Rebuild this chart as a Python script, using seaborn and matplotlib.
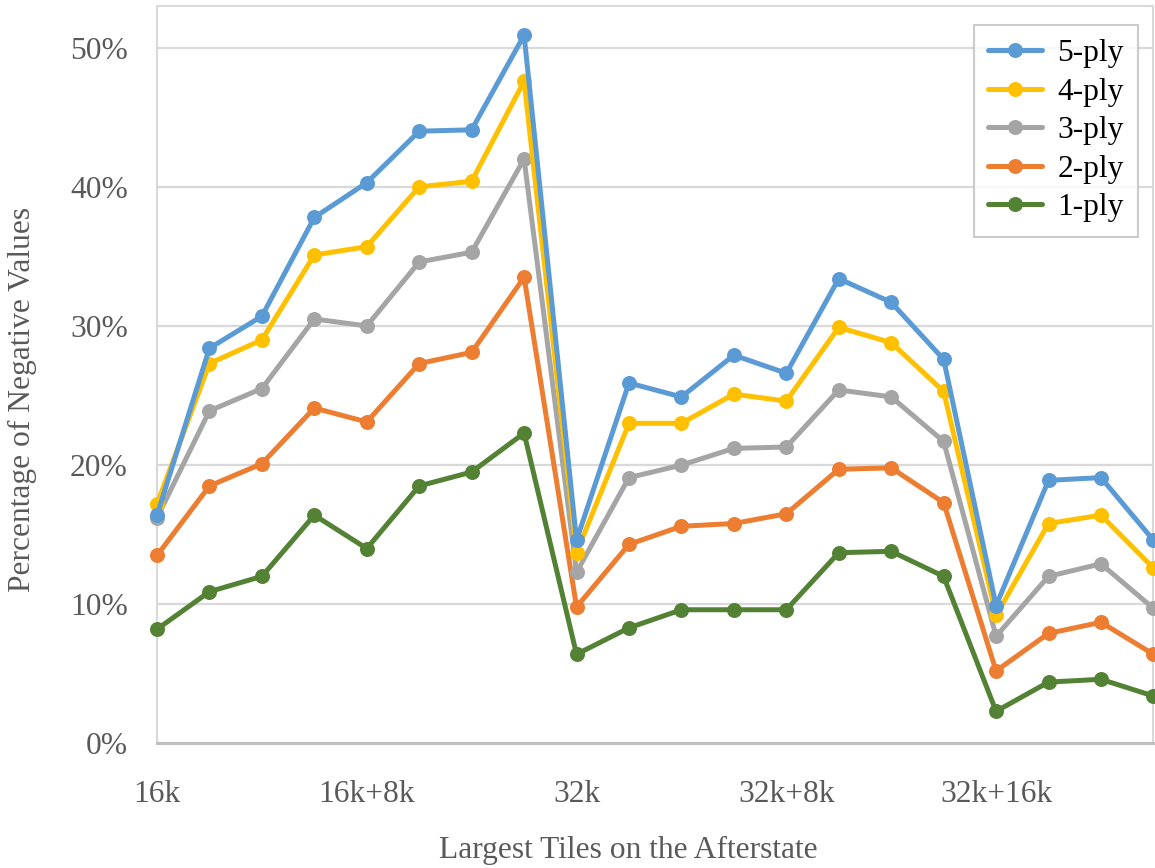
import matplotlib
matplotlib.use("Agg")
import matplotlib.pyplot as plt
from matplotlib.ticker import PercentFormatter, FixedLocator
from matplotlib.lines import Line2D
import seaborn as sns
import pandas as pd

# Largest tile on the afterstate, in 2k steps starting from 16k
steps = list(range(20))
tick_positions = [0, 4, 8, 12, 16]
tick_labels = ["16k", "16k+8k", "32k", "32k+8k", "32k+16k"]

# Percentage of negative values per search depth
ply1 = [8.2, 10.9, 12.0, 16.4, 14.0, 18.5, 19.5, 22.3, 6.4, 8.3,
        9.6, 9.6, 9.6, 13.7, 13.8, 12.0, 2.3, 4.4, 4.6, 3.4]
ply2 = [13.5, 18.5, 20.1, 24.1, 23.1, 27.3, 28.1, 33.5, 9.8, 14.3,
        15.6, 15.8, 16.5, 19.7, 19.8, 17.3, 5.2, 7.9, 8.7, 6.4]
ply3 = [16.2, 23.9, 25.5, 30.5, 30.0, 34.6, 35.3, 42.0, 12.3, 19.1,
        20.0, 21.2, 21.3, 25.4, 24.9, 21.7, 7.7, 12.0, 12.9, 9.7]
ply4 = [17.2, 27.3, 29.0, 35.1, 35.7, 40.0, 40.4, 47.6, 13.7, 23.0,
        23.0, 25.1, 24.6, 29.9, 28.8, 25.3, 9.2, 15.8, 16.4, 12.6]
ply5 = [16.4, 28.4, 30.7, 37.8, 40.3, 44.0, 44.1, 50.9, 14.6, 25.9,
        24.9, 27.9, 26.6, 33.4, 31.7, 27.6, 9.9, 18.9, 19.1, 14.6]

series_names = ["1-ply", "2-ply", "3-ply", "4-ply", "5-ply"]
series_values = [ply1, ply2, ply3, ply4, ply5]
colors = {"1-ply": "#548235", "2-ply": "#ED7D31", "3-ply": "#A5A5A5",
          "4-ply": "#FFC000", "5-ply": "#5B9BD5"}

df = pd.DataFrame(
    [(s, x, v) for s, vals in zip(series_names, series_values) for x, v in zip(steps, vals)],
    columns=["depth", "step", "pct"],
)

sns.set_theme(style="white")
plt.rcParams["font.family"] = ["Liberation Serif", "DejaVu Serif"]
text_color = "#595959"
fs = 22.7

fig = plt.figure(figsize=(11.55, 8.68), dpi=100)
ax = fig.add_axes([157 / 1155, 124.7 / 868, (1153.4 - 157) / 1155, 737.3 / 868])

sns.lineplot(data=df, x="step", y="pct", hue="depth", hue_order=series_names,
             palette=colors, marker="o", markersize=10.8, markeredgewidth=0,
             linewidth=3.6, sort=False, estimator=None, errorbar=None,
             legend=False, ax=ax, clip_on=False, zorder=3)

ax.set_xlim(0, 19)
ax.set_ylim(0, 53)
ax.set_axisbelow(True)

ax.yaxis.set_major_locator(FixedLocator([0, 10, 20, 30, 40, 50]))
ax.yaxis.set_major_formatter(PercentFormatter(xmax=100, decimals=0))
ax.grid(axis="y", color="#D9D9D9", linewidth=1.6)
ax.grid(axis="x", visible=False)

ax.set_xticks(tick_positions)
ax.set_xticklabels(tick_labels)
ax.set_xticks(steps, minor=True)
ax.tick_params(axis="x", which="major", direction="inout", length=14.4, width=2.2,
               color="#7F7F7F", labelsize=fs, labelcolor=text_color, pad=19)
ax.tick_params(axis="x", which="minor", direction="inout", length=12.5, width=1.4,
               color="#BFBFBF")
ax.tick_params(axis="y", which="both", length=0, labelsize=fs,
               labelcolor=text_color, pad=21)

for side in ["left", "top", "right"]:
    ax.spines[side].set_color("#D9D9D9")
    ax.spines[side].set_linewidth(1.5)
ax.spines["bottom"].set_color("#BFBFBF")
ax.spines["bottom"].set_linewidth(2.2)

ax.set_xlabel("Largest Tiles on the Afterstate", fontsize=fs, color=text_color)
ax.set_ylabel("Percentage of Negative Values", fontsize=fs, color=text_color)
# Axis titles placed in axes-fraction coordinates
ax.xaxis.set_label_coords((628 - 157) / 996.4, -(850 - 743.3) / 737.3)
ax.yaxis.set_label_coords(-(157 - 22) / 996.4, (743.3 - 399) / 737.3)
ax.xaxis.label.set_verticalalignment("center")
ax.yaxis.label.set_verticalalignment("center")

handles = [Line2D([], [], color=colors[n], marker="o", markersize=10.8,
                  markeredgewidth=0, linewidth=3.6) for n in reversed(series_names)]
leg = fig.legend(handles, list(reversed(series_names)), loc="upper right",
                 bbox_to_anchor=(1138 / 1155, 1 - 25 / 868), fontsize=fs,
                 frameon=True, fancybox=False, edgecolor="#BFBFBF",
                 handlelength=1.7, handletextpad=0.5, labelspacing=0.3,
                 borderpad=0.45, borderaxespad=0)
leg.get_frame().set_linewidth(1.5)
for t in leg.get_texts():
    t.set_color("#000000")

fig.savefig("out.png", dpi=100, facecolor="white")
